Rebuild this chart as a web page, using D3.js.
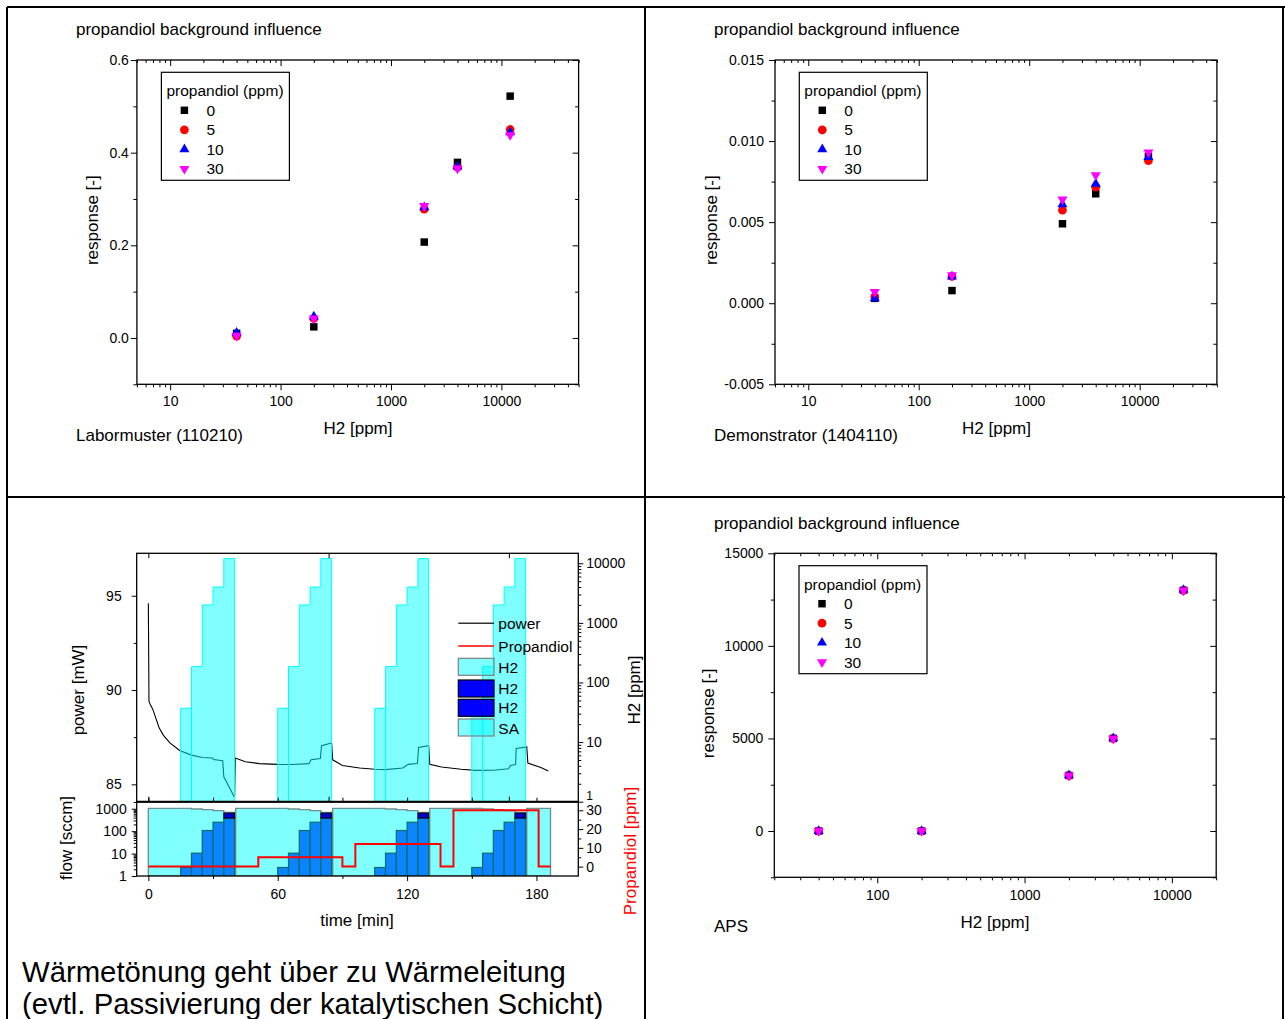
<!DOCTYPE html>
<html>
<head>
<meta charset="utf-8">
<script src="https://cdn.jsdelivr.net/npm/d3@7"></script>
<style>
  body { margin: 0; background: #fff; }
  svg { display: block; }
</style>
</head>
<body>
<svg id="chart" width="1285" height="1019"></svg>
<script>
// ---------------- data ----------------
const h2Ppm = [40, 200, 2000, 4000, 12000];
const seriesNames = ["0", "5", "10", "30"];
const seriesColors = ["#000000", "#ff0000", "#0000ff", "#ff00ff"];

// Labormuster (110210)
const labor0  = [0.010, 0.024, 0.207, 0.379, 0.522];
const labor5  = [0.004, 0.042, 0.278, 0.368, 0.450];
const labor10 = [0.011, 0.046, 0.282, 0.370, 0.444];
const labor30 = [0.005, 0.042, 0.285, 0.366, 0.438];

// Demonstrator (1404110)
const demo0  = [0.0003, 0.00078, 0.00490, 0.00675, 0.00905];
const demo5  = [0.0004, 0.00165, 0.00574, 0.00716, 0.00879];
const demo10 = [0.0003, 0.00165, 0.00610, 0.00737, 0.00901];
const demo30 = [0.0007, 0.00173, 0.00640, 0.00790, 0.00930];

// APS
const aps0  = [0, 0, 3000, 5000, 13000];
const aps5  = [0, 0, 3000, 5000, 13000];
const aps10 = [0, 0, 3010, 5010, 13020];
const aps30 = [0, 0, 2990, 4990, 12990];

// tick values
const xTicksWide = [10, 100, 1000, 10000];
const xTicksAps = [100, 1000, 10000];
const yTicksLabor = [0, 0.2, 0.4, 0.6];
const yMinorLabor = [-0.1, 0.1, 0.3, 0.5];
const yTicksDemo = [-0.005, 0, 0.005, 0.010, 0.015];
const yMinorDemo = [-0.0025, 0.0025, 0.0075, 0.0125];
const yTicksAps = [0, 5000, 10000, 15000];
const yMinorAps = [-2500, 2500, 7500, 12500];

// time run: power signal
const powerTime = [0, 0.3, 1, 2, 2.6, 3.5, 5, 7, 10, 14.5, 20, 25, 29.8, 30.2, 34.5, 35, 40, 40.3, 45, 51.5, 60, 67, 74.5, 75.5, 79.8, 80.3, 85, 85.5, 90, 98, 105, 110, 118, 120.5, 124.8, 125.3, 130, 130.5, 136, 145, 151.7, 160, 167, 168, 170.3, 170.6, 175.5, 176, 182, 185.5];
const powerMw   = [94.6, 89.4, 89.2, 89.0, 88.8, 88.5, 88.0, 87.6, 87.2, 86.8, 86.55, 86.42, 86.4, 86.32, 86.25, 85.4, 84.3, 86.4, 86.2, 86.1, 86.06, 86.05, 86.1, 86.3, 86.37, 87.05, 87.2, 86.3, 86.0, 85.87, 85.8, 85.78, 85.87, 86.06, 86.1, 86.95, 87.05, 86.06, 85.92, 85.8, 85.74, 85.75, 85.83, 86.0, 86.05, 86.9, 86.98, 86.13, 85.89, 85.71];

// H2 concentration steps (ppm) per exposure cycle
const h2StepTimes = [
  [15, 20, 25, 30, 35, 40],
  [60, 65, 70, 75, 80, 85],
  [105, 110, 115, 120, 125, 130],
  [150, 155, 160, 165, 170, 175]
];
const h2StepPpm = [37, 185, 2000, 4000, 12000];

// flows (sccm)
const h2FlowSccm = [2.4, 10.4, 107, 250, 384];
const h2FlowHigh = [384, 640];
const saTimes = [
  [0, 15, 20, 25, 30, 35, 40],
  [40.5, 60, 65, 70, 75, 80, 85],
  [85.5, 105, 110, 115, 120, 125, 130],
  [130.5, 150, 155, 160, 165, 170, 175],
  [175.5, 186.5]
];
const saFlow = [
  [1040, 1040, 980, 910, 820, 690],
  [1040, 1040, 980, 910, 820, 690],
  [1040, 1040, 980, 910, 820, 690],
  [1040, 1040, 980, 910, 820, 690],
  [1040]
];

// propandiol background (ppm)
const propTime = [0, 51, 90, 96, 135.5, 141.5, 181, 186.5];
const propPpm  = [0, 5, 0, 12, 0, 30, 0, 0];

const powerTicks = [85, 90, 95];
const powerMinor = [87.5, 92.5];
const h2AxisTicks = [1, 10, 100, 1000, 10000];
const flowTicks = [1, 10, 100, 1000];
const propTicks = [0, 10, 20, 30];
const propMinor = [5, 15, 25];
const timeTicks = [0, 60, 120, 180];
const timeMinor = [30, 90, 150];
const timeInner = [0, 30, 60, 90, 120, 150, 180];
const frameTicks = [0, 83.6, 167.2];

// ---------------- drawing ----------------
const FONT = "'Liberation Sans', Arial, Helvetica, sans-serif";
const svg = d3.select("#chart");

function styleAxis(sel, size) {
  sel.select(".domain").remove();
  sel.attr("font-family", FONT).attr("font-size", size || 14);
  sel.selectAll("text").attr("fill", "#000");
  sel.selectAll("line").attr("stroke", "#000");
}
function addAxis(g, gen, tx, ty, size) {
  return g.append("g").attr("transform", `translate(${tx},${ty})`).call(gen).call(s => styleAxis(s, size));
}
function minorOf(scale, majors) {
  return scale.ticks().filter(v => !majors.some(m => Math.abs(m - v) / Math.abs(m) < 1e-6));
}
function txt(g, x, y, s, size, opts = {}) {
  const t = g.append("text").attr("x", x).attr("y", y).text(s)
    .attr("font-family", FONT).attr("font-size", size)
    .attr("fill", opts.fill || "#000")
    .attr("dominant-baseline", opts.baseline || "central")
    .attr("text-anchor", opts.anchor || "start");
  if (opts.rotate) t.attr("transform", `rotate(-90,${x},${y})`);
  return t;
}
const hyphenMinus = f => d => f(d).replace("\u2212", "-");

const symbolTypes = [d3.symbolSquare, d3.symbolCircle, d3.symbolTriangle, d3.symbolTriangle];
const symbolSizes = [56, 60, 44, 44];
function markerTransform(i, x, y) {
  return `translate(${x},${y})` + (i === 3 ? " rotate(180)" : "");
}

// table frame
const frame = svg.append("g").attr("stroke", "#000").attr("stroke-width", 2);
[[7, 7, 1285, 7], [7, 7, 7, 1019], [645, 7, 645, 1019], [7, 497, 1285, 497], [1283, 7, 1283, 1019]]
  .forEach(l => frame.append("line").attr("x1", l[0]).attr("y1", l[1]).attr("x2", l[2]).attr("y2", l[3]));

function scatterPanel(p) {
  const g = svg.append("g");
  const x = d3.scaleLog().domain(p.xDomain).range([p.left, p.right]);
  const y = d3.scaleLinear().domain(p.yDomain).range([p.bottom, p.top]);
  const xMinor = minorOf(x, p.xTicks);

  addAxis(g, d3.axisBottom(x).tickValues(p.xTicks).tickSize(6).tickPadding(p.xPad).tickFormat(d3.format("d")), 0, p.bottom);
  addAxis(g, d3.axisBottom(x).tickValues(xMinor).tickSize(3).tickFormat(""), 0, p.bottom);
  addAxis(g, d3.axisTop(x).tickValues(p.xTicks).tickSize(-6).tickFormat(""), 0, p.top);
  addAxis(g, d3.axisTop(x).tickValues(xMinor).tickSize(-3).tickFormat(""), 0, p.top);
  addAxis(g, d3.axisLeft(y).tickValues(p.yTicks).tickSize(6).tickPadding(p.yPad).tickFormat(p.yFmt), p.left, 0);
  addAxis(g, d3.axisLeft(y).tickValues(p.yMinor).tickSize(3.5).tickFormat(""), p.left, 0);
  addAxis(g, d3.axisRight(y).tickValues(p.yTicks).tickSize(-6).tickFormat(""), p.right, 0);
  addAxis(g, d3.axisRight(y).tickValues(p.yMinor).tickSize(-3.5).tickFormat(""), p.right, 0);

  g.append("rect").attr("x", p.left).attr("y", p.top)
    .attr("width", p.right - p.left).attr("height", p.bottom - p.top)
    .attr("fill", "none").attr("stroke", "#000").attr("stroke-width", 1.3);

  p.series.forEach((vals, i) => {
    g.append("g").selectAll("path")
      .data(h2Ppm.map((h, k) => [h, vals[k]]))
      .join("path")
      .attr("d", d3.symbol(symbolTypes[i], symbolSizes[i]))
      .attr("transform", d => markerTransform(i, x(d[0]), y(d[1])))
      .attr("fill", seriesColors[i]);
  });

  // legend
  const L = p.legend;
  g.append("rect").attr("x", L.x).attr("y", L.y).attr("width", 128).attr("height", 108)
    .attr("fill", "#fff").attr("stroke", "#000").attr("stroke-width", 1.2);
  txt(g, L.x + 5, L.y + 18.5, "propandiol (ppm)", 15.5);
  seriesNames.forEach((s, i) => {
    const ly = L.y + 38 + i * 19.5;
    g.append("path").attr("d", d3.symbol(symbolTypes[i], symbolSizes[i]))
      .attr("transform", markerTransform(i, L.x + 23, ly)).attr("fill", seriesColors[i]);
    txt(g, L.x + 45, ly, s, 15.5);
  });

  if (p.title) txt(g, p.titleX, p.titleY, p.title, 17);
  txt(g, p.yLabelX, (p.top + p.bottom) / 2 - 2, "response [-]", 17, { anchor: "middle", rotate: true });
  txt(g, p.xLabelX, p.xLabelY, "H2 [ppm]", 17, { anchor: "middle" });
  txt(g, p.titleX, p.nameY, p.name, 17);
}

scatterPanel({
  left: 136.9, right: 578.6, top: 60, bottom: 384.3,
  xDomain: [5, 50000], yDomain: [-0.1, 0.6],
  xTicks: xTicksWide, yTicks: yTicksLabor, yMinor: yMinorLabor,
  yFmt: d3.format(".1f"), xPad: 6, yPad: 2,
  series: [labor0, labor5, labor10, labor30],
  legend: { x: 161.4, y: 72.3 },
  title: "propandiol background influence", titleX: 76, titleY: 29,
  yLabelX: 93, xLabelX: 358, xLabelY: 428.3, name: "Labormuster (110210)", nameY: 435
});

scatterPanel({
  left: 775, right: 1216.9, top: 60, bottom: 384.3,
  xDomain: [5, 50000], yDomain: [-0.005, 0.015],
  xTicks: xTicksWide, yTicks: yTicksDemo, yMinor: yMinorDemo,
  yFmt: hyphenMinus(d3.format(".3f")), xPad: 6, yPad: 5,
  series: [demo0, demo5, demo10, demo30],
  legend: { x: 799.3, y: 72.3 },
  title: "propandiol background influence", titleX: 714, titleY: 29,
  yLabelX: 712, xLabelX: 996.5, xLabelY: 428.3, name: "Demonstrator (1404110)", nameY: 435
});

scatterPanel({
  left: 774.3, right: 1216.2, top: 553.3, bottom: 877.3,
  xDomain: [20, 20000], yDomain: [-2500, 15000],
  xTicks: xTicksAps, yTicks: yTicksAps, yMinor: yMinorAps,
  yFmt: d3.format("d"), xPad: 7, yPad: 5,
  series: [aps0, aps5, aps10, aps30],
  legend: { x: 799, y: 565.7 },
  title: "propandiol background influence", titleX: 714, titleY: 523,
  yLabelX: 709, xLabelX: 995, xLabelY: 922.7, name: "APS", nameY: 926.7
});

// ---------------- time run panel ----------------
(function timeRun() {
  const g = svg.append("g");
  const L = 136.7, R = 578.3, T = 553.3, M = 801.7, B = 876;
  const t = d3.scaleLinear().domain([-5.4, 199.4]).range([L, R]);
  const pw = d3.scaleLinear().domain([84.08, 97.25]).range([M, T]);
  const h2 = d3.scaleLog().domain([1, 14700]).range([M, T]);
  const fl = d3.scaleLog().domain([1, 2060]).range([B, M]);
  const pr = d3.scaleLinear().domain([-5, 34.6]).range([B, M]);

  const defs = svg.append("defs");
  defs.append("clipPath").attr("id", "clipUpper").append("rect")
    .attr("x", L).attr("y", T).attr("width", R - L).attr("height", M - T);
  defs.append("clipPath").attr("id", "clipLower").append("rect")
    .attr("x", L).attr("y", M).attr("width", R - L).attr("height", B - M);

  // upper: power line under translucent H2 staircases
  const up = g.append("g").attr("clip-path", "url(#clipUpper)");
  up.append("path")
    .datum(powerTime.map((tt, i) => [tt, powerMw[i]]))
    .attr("d", d3.line().x(d => t(d[0])).y(d => pw(d[1])))
    .attr("fill", "none").attr("stroke", "#000").attr("stroke-width", 1.1);
  const stairs = d3.area().curve(d3.curveStepAfter)
    .x(d => t(d[0])).y0(M).y1(d => h2(d[1]));
  h2StepTimes.forEach(times => {
    // lowest step is a block of its own, the higher steps form one staircase
    up.append("path")
      .datum([[times[0], h2StepPpm[0]], [times[1], h2StepPpm[0]]])
      .attr("d", stairs)
      .attr("fill", "#00ffff").attr("fill-opacity", 0.5)
      .attr("stroke", "#00ffff").attr("stroke-width", 1);
    const pts = h2StepPpm.slice(1).map((v, k) => [times[k + 1], v]);
    pts.push([times[5], h2StepPpm[4]]);
    up.append("path").datum(pts).attr("d", stairs)
      .attr("fill", "#00ffff").attr("fill-opacity", 0.5)
      .attr("stroke", "#00ffff").attr("stroke-width", 1);
  });

  // lower: synthetic air and H2 flows, propandiol level
  const lo = g.append("g").attr("clip-path", "url(#clipLower)");
  const saArea = d3.area().curve(d3.curveStepAfter)
    .x(d => t(d[0])).y0(fl(1)).y1(d => fl(d[1]));
  saTimes.forEach((times, b) => {
    const vals = saFlow[b];
    const pts = times.map((tt, k) => [tt, vals[Math.min(k, vals.length - 1)]]);
    lo.append("path").datum(pts).attr("d", saArea)
      .attr("fill", "#80ffff").attr("stroke", "#6f9090").attr("stroke-width", 1.4);
  });
  h2StepTimes.forEach(times => {
    lo.append("g").selectAll("rect")
      .data(h2FlowSccm.map((v, k) => ({ t0: times[k], t1: times[k + 1], v })))
      .join("rect")
      .attr("x", d => t(d.t0)).attr("width", d => t(d.t1) - t(d.t0))
      .attr("y", d => fl(d.v)).attr("height", d => fl(1) - fl(d.v))
      .attr("fill", "#0a84ff").attr("stroke", "#0b6a6a").attr("stroke-width", 1.2);
    lo.append("rect")
      .attr("x", t(times[4])).attr("width", t(times[5]) - t(times[4]))
      .attr("y", fl(h2FlowHigh[1])).attr("height", fl(h2FlowHigh[0]) - fl(h2FlowHigh[1]))
      .attr("fill", "#0000cc").attr("stroke", "#000").attr("stroke-width", 1);
  });
  lo.append("path")
    .datum(propTime.map((tt, i) => [tt, propPpm[i]]))
    .attr("d", d3.line().curve(d3.curveStepAfter).x(d => t(d[0])).y(d => pr(d[1])))
    .attr("fill", "none").attr("stroke", "#ff0000").attr("stroke-width", 2);

  // axes, upper
  addAxis(g, d3.axisLeft(pw).tickValues(powerTicks).tickSize(5).tickPadding(10).tickFormat(d3.format("d")), L, 0);
  addAxis(g, d3.axisLeft(pw).tickValues(powerMinor).tickSize(3).tickFormat(""), L, 0);
  const h2Axis = addAxis(g, d3.axisRight(h2).tickValues(h2AxisTicks).tickSize(5).tickPadding(3).tickFormat(d3.format("d")), R, 0);
  // the "1" label sits raised above the propandiol "30"
  h2Axis.selectAll(".tick").filter(d => d === 1).select("text").attr("y", -6).attr("font-size", 12);
  addAxis(g, d3.axisRight(h2).tickValues(minorOf(h2, h2AxisTicks)).tickSize(3).tickFormat(""), R, 0);
  addAxis(g, d3.axisTop(t).tickValues(frameTicks).tickSize(-5).tickFormat(""), 0, T);
  addAxis(g, d3.axisTop(t).tickValues(frameTicks).tickSize(5).tickFormat(""), 0, M);

  // axes, lower
  addAxis(g, d3.axisLeft(fl).tickValues(flowTicks).tickSize(5).tickPadding(5).tickFormat(d3.format("d")), L, 0);
  addAxis(g, d3.axisLeft(fl).tickValues(minorOf(fl, flowTicks)).tickSize(3).tickFormat(""), L, 0);
  addAxis(g, d3.axisRight(pr).tickValues(propTicks).tickSize(5).tickPadding(3).tickFormat(d3.format("d")), R, 0);
  addAxis(g, d3.axisRight(pr).tickValues(propMinor).tickSize(3).tickFormat(""), R, 0);
  addAxis(g, d3.axisBottom(t).tickValues(timeTicks).tickSize(5).tickPadding(8).tickFormat(d3.format("d")), 0, B);
  addAxis(g, d3.axisBottom(t).tickValues(timeMinor).tickSize(3).tickFormat(""), 0, B);
  addAxis(g, d3.axisBottom(t).tickValues(timeInner).tickSize(-4).tickFormat(""), 0, M);

  // frames
  g.append("rect").attr("x", L).attr("y", T).attr("width", R - L).attr("height", M - T)
    .attr("fill", "none").attr("stroke", "#000").attr("stroke-width", 1.3);
  g.append("rect").attr("x", L).attr("y", M).attr("width", R - L).attr("height", B - M)
    .attr("fill", "none").attr("stroke", "#000").attr("stroke-width", 1.3);
  g.append("line").attr("x1", L).attr("x2", R).attr("y1", M).attr("y2", M)
    .attr("stroke", "#000").attr("stroke-width", 2);

  // legend
  const lg = g.append("g");
  const lx0 = 458.3, lx1 = 494, tx = 498.3;
  lg.append("line").attr("x1", lx0).attr("x2", lx1).attr("y1", 623.3).attr("y2", 623.3)
    .attr("stroke", "#333").attr("stroke-width", 1.5);
  txt(lg, tx, 623.3, "power", 15.5);
  lg.append("line").attr("x1", lx0).attr("x2", lx1).attr("y1", 646).attr("y2", 646)
    .attr("stroke", "#ff0000").attr("stroke-width", 1.5);
  txt(lg, tx, 646, "Propandiol", 15.5);
  const boxes = [
    { y: 658.3, label: "H2", ly: 667.3, fill: "#00ffff", op: 0.5, stroke: "#7f7f7f" },
    { y: 680, label: "H2", ly: 688.3, fill: "#0000ff", op: 1, stroke: "#000" },
    { y: 699.3, label: "H2", ly: 707, fill: "#0000ff", op: 1, stroke: "#000" },
    { y: 719, label: "SA", ly: 728, fill: "#00ffff", op: 0.5, stroke: "#7f7f7f" }
  ];
  boxes.forEach(b => {
    lg.append("rect").attr("x", lx0).attr("y", b.y).attr("width", lx1 - lx0).attr("height", 17)
      .attr("fill", b.fill).attr("fill-opacity", b.op).attr("stroke", b.stroke).attr("stroke-width", 1.2);
    txt(lg, tx, b.ly, b.label, 15.5);
  });

  // axis titles
  txt(g, 78, 690, "power [mW]", 17, { anchor: "middle", rotate: true });
  txt(g, 634, 690, "H2 [ppm]", 17, { anchor: "middle", rotate: true });
  txt(g, 66, 838, "flow [sccm]", 17, { anchor: "middle", rotate: true });
  txt(g, 630, 851, "Propandiol [ppm]", 17, { anchor: "middle", rotate: true, fill: "#ff0000" });
  txt(g, 357, 920, "time [min]", 17, { anchor: "middle" });
})();

// note below the time run
txt(svg, 22, 982, "Wärmetönung geht über zu Wärmeleitung", 29.3, { baseline: "alphabetic" });
txt(svg, 22, 1014, "(evtl. Passivierung der katalytischen Schicht)", 29.3, { baseline: "alphabetic" });
</script>
</body>
</html>
